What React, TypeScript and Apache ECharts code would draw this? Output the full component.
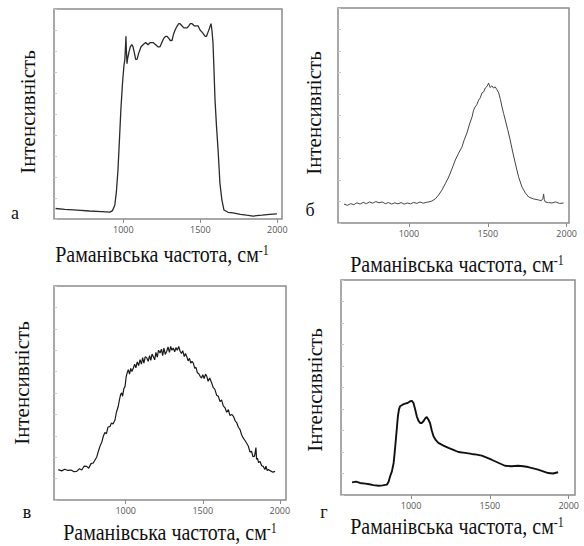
import React, { useEffect, useRef } from "react";
import * as echarts from "echarts";

const tickValues = [1000, 1500, 2000];
const yTitle = "Інтенсивність";
const xTitleMain = "Раманівська частота, см";
const xTitleSup = "-1";
const panelLetters = ["а", "б", "в", "г"];

const spectrumA: [number, number][] = [
  [560, 5.0], [620, 4.6], [700, 4.2], [780, 3.8], [860, 3.5], [913, 3.3], [930, 4.0], [945, 6.7], [955, 13], [965, 23],
  [975, 38], [984, 52], [995, 65], [1004, 73], [1010, 76], [1014, 82], [1017, 87], [1020, 80], [1024, 74], [1027, 76],
  [1035, 79], [1045, 82], [1055, 83], [1063, 82], [1072, 79], [1080, 76], [1089, 76], [1100, 79], [1115, 82], [1128, 83],
  [1145, 84], [1160, 83], [1175, 84], [1193, 84], [1210, 83], [1225, 82], [1238, 82], [1250, 84], [1262, 86], [1275, 87],
  [1284, 87], [1295, 86], [1305, 85], [1316, 85], [1326, 88], [1336, 90], [1350, 92], [1360, 93], [1368, 93], [1380, 92],
  [1393, 91], [1405, 91], [1414, 91], [1425, 92], [1435, 93], [1446, 93], [1460, 92], [1475, 92], [1485, 92], [1498, 90],
  [1511, 89], [1521, 88], [1531, 87], [1540, 87], [1550, 89], [1560, 91], [1569, 93], [1575, 90], [1582, 84], [1588, 72],
  [1595, 57], [1605, 44], [1615, 33], [1627, 17], [1640, 9], [1653, 4.3], [1680, 3.2], [1712, 2.9], [1760, 2.2], [1800, 1.8],
  [1842, 1.4], [1900, 1.8], [1950, 2.2], [1997, 2.4],
];

const spectrumB: [number, number][] = [
  [588, 8.8], [610, 8.2], [630, 9.0], [650, 8.5], [670, 9.4], [690, 8.8], [710, 9.6], [730, 9.0], [750, 9.8], [770, 9.2],
  [790, 10.0], [810, 9.4], [830, 9.8], [850, 9.0], [870, 9.5], [890, 8.8], [910, 9.4], [930, 8.9], [950, 9.5], [970, 8.8],
  [990, 9.3], [1010, 8.9], [1030, 9.6], [1050, 9.1], [1070, 9.8], [1090, 9.2], [1110, 9.6], [1125, 9.8], [1145, 10.2], [1167, 11.2],
  [1188, 13.0], [1209, 15.3], [1230, 18.2], [1252, 21.4], [1273, 25.2], [1294, 29.3], [1315, 32.5], [1336, 35.3], [1352, 39.0], [1368, 41.9],
  [1384, 46.0], [1400, 49.3], [1410, 52.5], [1420, 54], [1430, 55.0], [1442, 57.2], [1452, 58.2], [1463, 60.5], [1474, 61.0], [1484, 62.8],
  [1495, 63.5], [1505, 65.1], [1515, 63.0], [1526, 63.8], [1536, 62.8], [1547, 63.3], [1558, 62.0], [1569, 60.5], [1580, 57.5], [1590, 54],
  [1600, 51], [1611, 47.9], [1626, 43.5], [1642, 38.6], [1658, 33.0], [1674, 27.9], [1695, 21.5], [1717, 16.7], [1738, 14.0], [1759, 12.1],
  [1790, 11.2], [1822, 10.7], [1840, 10.4], [1850, 11.5], [1854, 13.5], [1858, 11.0], [1864, 9.8], [1885, 9.5], [1907, 9.3], [1930, 9.8],
  [1955, 9.1], [1981, 9.3],
];

const spectrumC: [number, number][] = [
  [563, 14.2], [585, 13.6], [605, 14.4], [625, 13.8], [645, 14.0], [665, 13.2], [682, 13.4], [700, 14.6], [715, 14.0], [730, 15.8],
  [747, 15.7], [760, 14.8], [775, 17.0], [790, 17.3], [800, 18.6], [812, 20.0], [823, 22.8], [835, 25.5], [845, 27.0], [855, 29.8],
  [865, 31.5], [875, 31.0], [885, 34.0], [898, 34.4], [908, 36.0], [918, 35.5], [931, 37.5], [940, 41.0], [952, 43.8], [960, 47.0],
  [968, 49.5], [974, 50], [980, 48.5], [988, 52.0], [996, 53.1], [1003, 57.5], [1010, 59.5], [1017, 60.9], [1025, 58.8], [1033, 61.5],
  [1040, 60.0], [1050, 61.7], [1058, 63.5], [1066, 61.8], [1075, 64.5], [1084, 62.8], [1093, 65.6], [1102, 63.5], [1110, 66.5], [1118, 64.0],
  [1127, 67.0], [1137, 66.4], [1146, 64.8], [1155, 67.5], [1163, 65.2], [1171, 68.2], [1179, 67.1], [1188, 65.5], [1196, 69.0], [1205, 66.8],
  [1213, 70.0], [1223, 68.7], [1232, 70.5], [1240, 67.5], [1248, 71.0], [1257, 68.0], [1266, 69.5], [1275, 71.5], [1284, 69.0], [1292, 71.8],
  [1300, 70.0], [1309, 71.0], [1318, 69.2], [1326, 71.2], [1335, 70.0], [1344, 71.8], [1353, 69.5], [1362, 68.5], [1370, 69.8], [1380, 67.0],
  [1388, 68.5], [1396, 67.1], [1405, 65.0], [1414, 66.2], [1422, 64.0], [1430, 64.8], [1439, 64], [1448, 61.5], [1456, 62.0], [1465, 59.5],
  [1474, 59.0], [1483, 57.8], [1492, 57.0], [1500, 58.5], [1509, 56.8], [1518, 58.8], [1526, 57.8], [1535, 55.5], [1545, 57.0], [1558, 54.7],
  [1568, 52.5], [1578, 51.8], [1590, 49.0], [1601, 48.5], [1612, 46.0], [1622, 46.8], [1633, 44.0], [1645, 43], [1655, 41.0], [1666, 42.2],
  [1676, 39.5], [1688, 40.0], [1699, 39.1], [1710, 37.0], [1720, 36.2], [1731, 34.0], [1742, 32.9], [1752, 30.5], [1762, 29.0], [1774, 27.8],
  [1785, 26.5], [1796, 25.1], [1806, 22.5], [1816, 22.8], [1826, 20.2], [1836, 20.5], [1845, 24.5], [1849, 19.0], [1855, 19.6], [1862, 17.5],
  [1872, 18.0], [1882, 16.0], [1893, 15.7], [1903, 14.2], [1910, 15.8], [1918, 13.8], [1926, 14.2], [1940, 13.6], [1955, 13.0], [1969, 13.4],
];

const spectrumD: [number, number][] = [
  [625, 5.9], [650, 6.2], [675, 5.6], [709, 5.3], [735, 5.0], [760, 4.6], [794, 4.3], [820, 4.5], [846, 4.8], [857, 6.2],
  [867, 8.7], [878, 11.0], [889, 14.9], [896, 20.0], [903, 25.7], [910, 31.5], [916, 36.6], [923, 39.8], [930, 41.3], [946, 42.0],
  [962, 42.5], [978, 42.8], [994, 43.6], [1005, 43.8], [1015, 42.8], [1025, 40.0], [1036, 36.6], [1047, 34.5], [1057, 33.5], [1068, 33.5],
  [1078, 34.3], [1088, 35.5], [1099, 36.3], [1110, 35.0], [1120, 33.5], [1131, 30.0], [1142, 27.3], [1157, 25.5], [1173, 24.2], [1205, 23.0],
  [1237, 21.9], [1268, 21.0], [1300, 20.0], [1342, 19.6], [1384, 19.1], [1416, 18.8], [1448, 18.3], [1480, 17.4], [1511, 16.4], [1553, 15.0],
  [1595, 13.6], [1637, 13.4], [1680, 13.6], [1712, 13.4], [1743, 13.0], [1775, 12.4], [1806, 11.8], [1838, 11.0], [1870, 10.2], [1900, 10.0],
  [1933, 10.6],
];

const spectra = [spectrumA, spectrumB, spectrumC, spectrumD];
const xRanges: [number, number][] = [[550, 2030], [550, 2015], [535, 2040], [555, 2040]];

const panels = [
  { grid: { left: 54, top: 9, width: 228, height: 210 }, yT: [28, 112], xT: [162, 255], letter: [15, 213], lw: 1.3, color: "#2a2a2a" },
  { grid: { left: 338, top: 8, width: 231, height: 215 }, yT: [314, 113], xT: [457, 265], letter: [310, 210], lw: 1.0, color: "#444" },
  { grid: { left: 54, top: 286, width: 232, height: 214 }, yT: [22, 383], xT: [170, 533], letter: [27, 512], lw: 1.2, color: "#1a1a1a" },
  { grid: { left: 341, top: 280, width: 234, height: 215 }, yT: [315, 390], xT: [457, 527], letter: [324, 512], lw: 1.9, color: "#111" },
];

export default function App() {
  const ref = useRef<HTMLDivElement>(null);
  useEffect(() => {
    if (!ref.current) return;
    const chart = echarts.init(ref.current, undefined, { renderer: "svg" });
    const serif = "Liberation Serif";
    const graphics: any[] = [];
    panels.forEach((p, i) => {
      graphics.push({
        type: "text", x: p.yT[0], y: p.yT[1], rotation: Math.PI / 2, scaleX: 1.05,
        style: { text: yTitle, fontFamily: serif, fontSize: 20, fill: "#111", textAlign: "center", textVerticalAlign: "middle" },
      });
      graphics.push({
        type: "text", x: p.xT[0], y: p.xT[1], scaleY: 1.15,
        style: {
          text: `{m|${xTitleMain}}{s|${xTitleSup}}`,
          textAlign: "center", textVerticalAlign: "middle",
          rich: {
            m: { fontFamily: serif, fontSize: 20, fill: "#111", verticalAlign: "bottom", lineHeight: 20 },
            s: { fontFamily: serif, fontSize: 12, fill: "#111", verticalAlign: "top", lineHeight: 20 },
          },
        },
      });
      graphics.push({
        type: "text", x: p.letter[0], y: p.letter[1],
        style: { text: panelLetters[i], fontFamily: serif, fontSize: 18, fill: "#111", textAlign: "center", textVerticalAlign: "middle" },
      });
    });
    chart.setOption({
      animation: false,
      grid: panels.map((p) => ({ ...p.grid, show: true, borderColor: "#8c8c8c", borderWidth: 1.5, backgroundColor: "transparent" })),
      xAxis: panels.map((p, i) => ({
        type: "value", gridIndex: i, min: xRanges[i][0], max: xRanges[i][1],
        axisLine: { show: false },
        splitLine: { show: false },
        axisTick: { show: true, customValues: tickValues, length: 4, lineStyle: { color: "#8c8c8c", width: 1 } },
        axisLabel: {
          customValues: tickValues, fontSize: 9, color: "#555", fontFamily: "Open Sans", margin: 6,
          formatter: (v: number) => String(v),
        },
      })),
      yAxis: panels.map((p, i) => ({
        type: "value", gridIndex: i, min: 0, max: 100, interval: 10,
        axisLine: { show: false },
        splitLine: { show: false },
        axisLabel: { show: false },
        axisTick: { show: true, inside: true, length: 3, lineStyle: { color: "#c8c8c8", width: 1 } },
      })),
      series: panels.map((p, i) => ({
        type: "line", xAxisIndex: i, yAxisIndex: i, data: spectra[i], showSymbol: false, symbol: "none",
        lineStyle: { color: p.color, width: p.lw }, silent: true,
      })),
      graphic: graphics,
    });
    return () => chart.dispose();
  }, []);
  return <div ref={ref} style={{ position: "fixed", left: 0, top: 0, width: 584, height: 546, background: "#fff" }} />;
}
